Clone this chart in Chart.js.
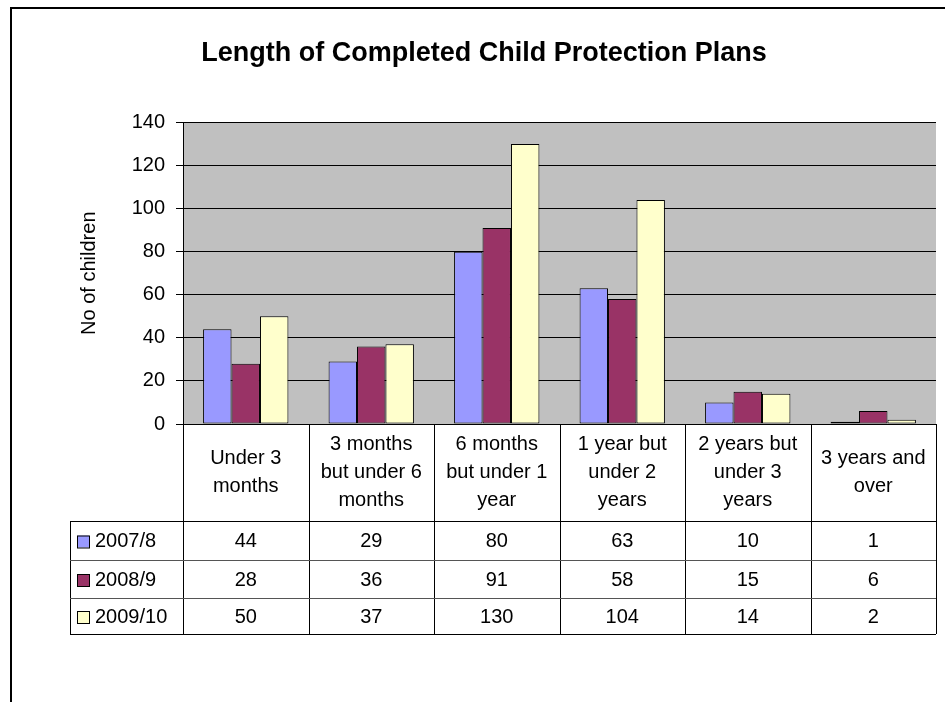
<!DOCTYPE html>
<html>
<head>
<meta charset="utf-8">
<script src="https://cdn.jsdelivr.net/npm/chart.js@4.4.1/dist/chart.umd.min.js"></script>
<style>
  html, body { margin: 0; padding: 0; background: #fff; }
  #wrap { width: 945px; height: 702px; }
</style>
</head>
<body>
<div id="wrap"><canvas id="chart" width="945" height="702"></canvas></div>
<script>
// data
const categories = [
  ["Under 3", "months"],
  ["3 months", "but under 6", "months"],
  ["6 months", "but under 1", "year"],
  ["1 year but", "under 2", "years"],
  ["2 years but", "under 3", "years"],
  ["3 years and", "over"]
];
const seriesNames = ["2007/8", "2008/9", "2009/10"];
const values2007 = [44, 29, 80, 63, 10, 1];
const values2008 = [28, 36, 91, 58, 15, 6];
const values2009 = [50, 37, 130, 104, 14, 2];
const yTicks = [0, 20, 40, 60, 80, 100, 120, 140];

const colors = ["#9999FF", "#993366", "#FFFFCC"];
const FONT = "'Liberation Sans', Arial, sans-serif";

// background, frame and grey plot area
const backdrop = {
  id: "backdrop",
  beforeDraw(chart) {
    const ctx = chart.ctx;
    const a = chart.chartArea;
    ctx.save();
    ctx.fillStyle = "#fff";
    ctx.fillRect(0, 0, chart.width, chart.height);
    ctx.strokeStyle = "#000";
    ctx.lineWidth = 2;
    ctx.beginPath();
    ctx.moveTo(11, chart.height + 2);
    ctx.lineTo(11, 8);
    ctx.lineTo(chart.width + 2, 8);
    ctx.stroke();
    ctx.fillStyle = "#C0C0C0";
    ctx.fillRect(a.left, a.top, a.right - a.left, a.bottom - a.top);
    ctx.restore();
  }
};

// data table under the plot
const dataTable = {
  id: "dataTable",
  afterDraw(chart) {
    const ctx = chart.ctx;
    const x = chart.scales.x;
    const top = chart.chartArea.bottom;
    const headerBottom = top + 97;
    const rowH = [39, 38, 36];
    const legLeft = 70;
    const colW = x.width / categories.length;
    const rowTops = [headerBottom];
    rowH.forEach((h, i) => rowTops.push(rowTops[i] + h));
    const bottom = rowTops[rowTops.length - 1];

    ctx.save();
    ctx.lineWidth = 1;
    ctx.strokeStyle = "#000";
    // verticals
    for (let i = 0; i <= categories.length; i++) {
      const cx = Math.round(x.left + i * colW) + 0.5;
      ctx.beginPath();
      ctx.moveTo(cx, top);
      ctx.lineTo(cx, bottom);
      ctx.stroke();
    }
    ctx.beginPath();
    ctx.moveTo(legLeft + 0.5, headerBottom);
    ctx.lineTo(legLeft + 0.5, bottom);
    ctx.stroke();
    // horizontals
    rowTops.forEach((ry, i) => {
      ctx.strokeStyle = (i === 0 || i === rowTops.length - 1) ? "#000" : "#555";
      ctx.beginPath();
      ctx.moveTo(legLeft, Math.round(ry) + 0.5);
      ctx.lineTo(x.right, Math.round(ry) + 0.5);
      ctx.stroke();
    });

    ctx.fillStyle = "#000";
    ctx.font = "20px " + FONT;
    ctx.textAlign = "center";
    ctx.textBaseline = "middle";
    // header
    const lh = 28;
    categories.forEach((lines, i) => {
      const cx = x.left + (i + 0.5) * colW;
      const cy = (top + headerBottom) / 2;
      lines.forEach((t, j) => {
        ctx.fillText(t, cx, cy + (j - (lines.length - 1) / 2) * lh);
      });
    });
    // rows
    chart.data.datasets.forEach((ds, r) => {
      const cy = rowTops[r] + rowH[r] / 2 + 1;
      ds.data.forEach((v, i) => {
        ctx.textAlign = "center";
        ctx.fillText(String(v), x.left + (i + 0.5) * colW, cy);
      });
      ctx.fillStyle = ds.backgroundColor;
      ctx.fillRect(77, cy - 6, 12, 12);
      ctx.strokeStyle = "#000";
      ctx.strokeRect(77.5, cy - 5.5, 12, 12);
      ctx.fillStyle = "#000";
      ctx.textAlign = "left";
      ctx.fillText(ds.label, 95, cy);
    });
    ctx.restore();
  }
};

new Chart(document.getElementById("chart"), {
  type: "bar",
  data: {
    labels: categories,
    datasets: [
      { label: seriesNames[0], data: values2007, backgroundColor: colors[0] },
      { label: seriesNames[1], data: values2008, backgroundColor: colors[1] },
      { label: seriesNames[2], data: values2009, backgroundColor: colors[2] }
    ].map((d) => Object.assign(d, {
      borderColor: "#000",
      borderWidth: 1,
      borderSkipped: false,
      barPercentage: 1,
      categoryPercentage: 0.68
    }))
  },
  options: {
    responsive: false,
    animation: false,
    layout: { padding: { left: 32, right: 9, top: 0, bottom: 0 } },
    plugins: {
      legend: { display: false },
      tooltip: { enabled: false },
      title: {
        display: true,
        text: "Length of Completed Child Protection Plans",
        color: "#000",
        font: { family: FONT, size: 27, weight: "bold" },
        padding: { top: 37, bottom: 53 }
      }
    },
    scales: {
      x: {
        grid: { display: false },
        border: { display: true, color: "#000", width: 1 },
        ticks: { display: false },
        afterFit: (s) => { s.height = 278; }
      },
      y: {
        min: 0,
        max: 140,
        afterBuildTicks: (s) => { s.ticks = yTicks.map((v) => ({ value: v })); },
        grid: { color: "#000", lineWidth: 1, tickLength: 7, drawTicks: true },
        border: { display: true, color: "#000", width: 1 },
        ticks: {
          color: "#000",
          padding: 11,
          font: { family: FONT, size: 20 }
        },
        title: {
          display: true,
          text: "No of children",
          color: "#000",
          font: { family: FONT, size: 20 },
          padding: { top: 45, bottom: 0 }
        },
        afterFit: (s) => { s.width = 151; }
      }
    }
  },
  plugins: [backdrop, dataTable]
});
</script>
</body>
</html>
